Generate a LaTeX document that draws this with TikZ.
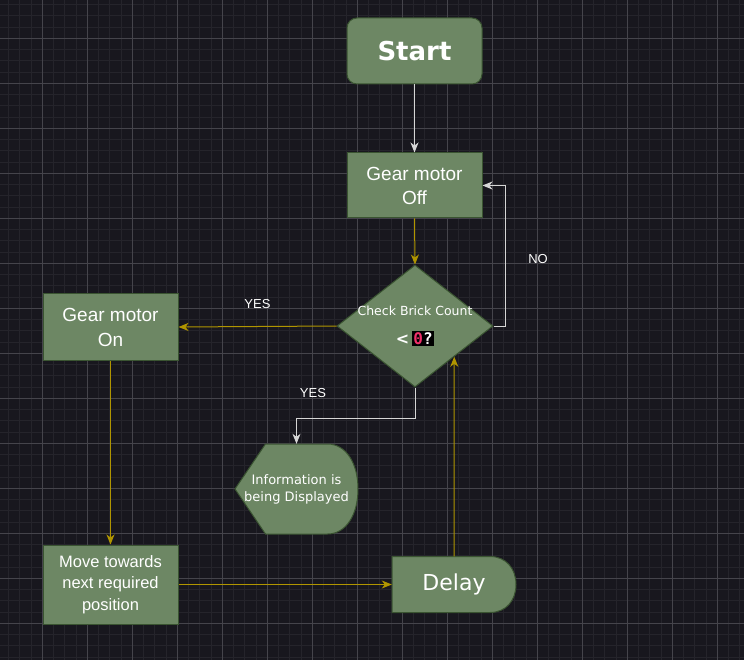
\documentclass[tikz,border=0pt]{standalone}
\usepackage{fontspec}
\setmainfont{Liberation Sans}
\newfontfamily\handfont{DejaVu Sans}
\newfontfamily\codefont{DejaVu Sans Mono}
\usetikzlibrary{arrows.meta,shapes.geometric,positioning}
\definecolor{bgdark}{HTML}{18171E}
\definecolor{gridminor}{HTML}{25242B}
\definecolor{gridmajor}{HTML}{45444B}
\definecolor{boxfill}{HTML}{6D8764}
\definecolor{boxline}{HTML}{3A5431}
\definecolor{goldline}{HTML}{B09500}
\definecolor{greyline}{HTML}{D6D6D6}
\definecolor{zeropink}{HTML}{F0306A}
\setlength{\fboxsep}{1.5pt}

\begin{document}
\begin{tikzpicture}[x=1pt,y=-1pt,
    box/.style={draw=boxline,fill=boxfill,line width=1pt,text=white,align=center,minimum width=135pt},
    goldarrow/.style={draw=goldline,line width=1pt,-{Stealth[length=10pt,width=8pt,inset=3pt]}},
    greyarrow/.style={draw=greyline,line width=1pt,-{Stealth[length=10pt,width=8pt,inset=3pt]}},
    tag/.style={text=white,font=\fontsize{13}{15}\selectfont}]
    \useasboundingbox (0,0) rectangle (744,660);
    % background grid
    \fill[bgdark] (0,0) rectangle (744,660);
    \foreach \k in {0,...,66} \draw[gridminor,line width=1pt] ({-2.7+11.25*\k},0) -- ++(0,660);
    \foreach \k in {0,...,58} \draw[gridminor,line width=1pt] (0,{4.55+11.25*\k}) -- ++(744,0);
    \foreach \k in {1,...,17} \draw[gridmajor,line width=1pt] ({-2.7+45*\k},0) -- ++(0,660);
    \foreach \k in {1,...,15} \draw[gridmajor,line width=1pt] (0,{-6.7+45*\k}) -- ++(744,0);

    % shapes
    \node[box,rounded corners=10pt,minimum height=66pt,font=\handfont\bfseries\fontsize{26}{30}\selectfont] (start) at (414.5,51) {Start};
    \node[box,minimum height=65pt,font=\fontsize{19}{24}\selectfont] (offmotor) at (414.5,185.5) {Gear motor\\Off};
    \node[diamond,draw=boxline,fill=boxfill,line width=1pt,minimum width=156pt,minimum height=122pt,inner sep=0pt] (check) at (415,326) {};
    \node[text=white,align=center,font=\handfont\fontsize{12.5}{29}\selectfont] (checktext) at (415,326)
        {Check Brick Count\\{\bfseries\fontsize{16}{18}\selectfont <\,\colorbox{black}{\codefont\textcolor{zeropink}{0}\textcolor{white}{?}}}};
    \node[box,minimum height=66pt,font=\fontsize{19}{25}\selectfont] (onmotor) at (110.5,327) {Gear motor\\On};
    \node[box,minimum height=79pt,font=\fontsize{16.5}{21.5}\selectfont] (move) at (110.5,584.5) {Move towards\\next required\\position};
    \begin{scope}[shift={(296.5,489)}]
        \draw[boxline,fill=boxfill,line width=1pt] (-61.5,0) -- (-31,-45) -- (31,-45)
            .. controls (50,-45) and (61.5,-25) .. (61.5,0)
            .. controls (61.5,25) and (50,45) .. (31,45) -- (-31,45) -- cycle;
    \end{scope}
    \node[text=white,align=center,minimum width=123pt,minimum height=90pt,inner sep=0pt,font=\handfont\fontsize{13}{17}\selectfont] (display) at (296.5,489) {Information is\\being Displayed};
    \begin{scope}[shift={(454,584.5)}]
        \draw[boxline,fill=boxfill,line width=1pt] (-62,-28) -- (36,-28)
            .. controls (52,-28) and (62,-16) .. (62,0)
            .. controls (62,16) and (52,28) .. (36,28) -- (-62,28) -- cycle;
    \end{scope}
    \node[text=white,minimum width=124pt,minimum height=56pt,inner sep=0pt,font=\handfont\fontsize{22}{26}\selectfont] (delay) at (454,584.5) {Delay};

    % connectors
    \draw[greyarrow] (start.south) -- (offmotor.north);
    \draw[goldarrow] (offmotor.south) -- (check.north);
    \draw[goldarrow] (check.west) -- node[tag,above=14pt] {YES} (onmotor.east);
    \draw[greyarrow] (check.east) -- ++(12,0) |- (offmotor.east);
    \node[tag] (nolabel) at (538,259) {NO};
    \draw[greyarrow] (check.south) -- ++(0,31) -| (display.north);
    \node[tag] (yeslabel) at (313,393) {YES};
    \draw[goldarrow] (onmotor.south) -- (move.north);
    \draw[goldarrow] (move.east) -- (delay.west);
    \draw[goldarrow] (delay.north) -- (check.south east);
\end{tikzpicture}
\end{document}
